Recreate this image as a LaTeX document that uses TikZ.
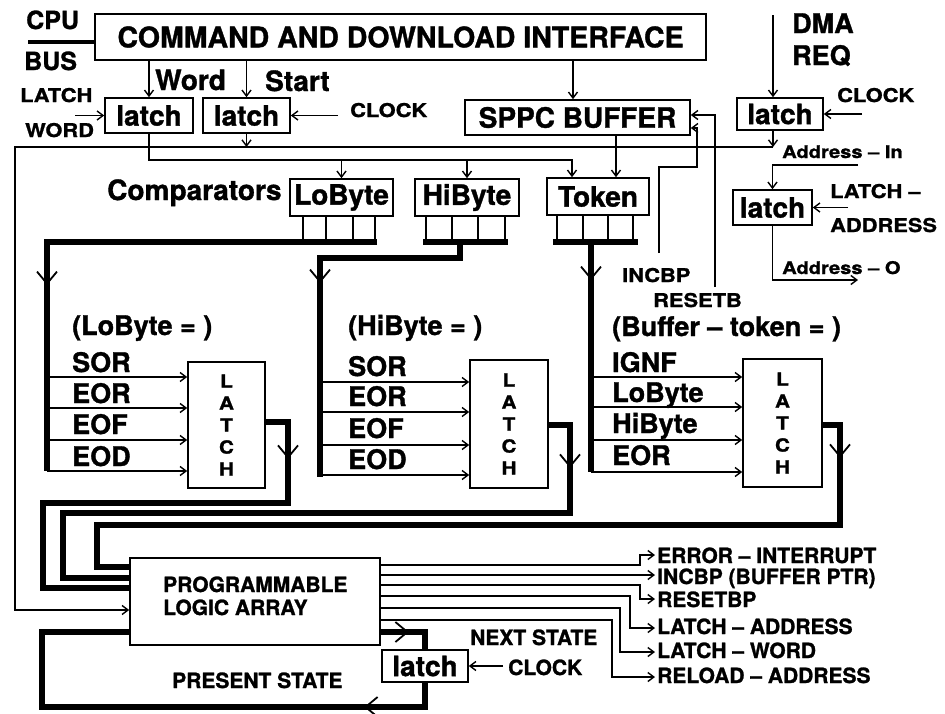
\documentclass[tikz,border=0pt]{standalone}
\usepackage{fontspec}
\setmainfont{TeX Gyre Heros}[BoldFeatures={FakeBold=1.2}]
\newfontfamily\wf{TeX Gyre Heros}[FakeStretch=1.15,BoldFeatures={FakeBold=1.2}]
\usetikzlibrary{arrows.meta,decorations.markings}
\newcommand\fsz[2]{\fontsize{#1}{#2}\selectfont}
\tikzset{
  wire/.style={line width=1.3pt},
  arr/.style={line width=1.3pt,-{Straight Barb[length=6pt,width=9pt,line width=1.4pt]}},
  bus/.style={line width=6pt},
  blk/.style={draw,line width=1.6pt,inner sep=0pt},
  chev/.style={postaction={decorate},decoration={markings,mark=at position #1 with {\arrow{Straight Barb[length=12pt,width=20pt,line width=1.8pt]}}}},
  lblbig/.style={font=\bfseries\fsz{28}{30}},
  lblmid/.style={font=\bfseries\fsz{27}{29}},
  lblsm/.style={font=\wf\bfseries\fsz{19}{21}},
  lbladdr/.style={font=\wf\bfseries\fsz{17.5}{19}},
  lbllo/.style={font=\bfseries\fsz{21}{23}},
  txt/.style={inner sep=0pt,anchor=base west},
  latchcol/.style={blk,align=center,font=\wf\bfseries\fsz{18}{22}},
}
\begin{document}
\begin{tikzpicture}[x=1pt,y=-1pt]
\fill[white] (0,0) rectangle (945,713);
\useasboundingbox (0,0) rectangle (945,713);

% ---------- boxes ----------
\node[blk,minimum width=611pt,minimum height=46pt,font=\bfseries\fsz{28.5}{30}] (cmd) at (400.5,37) {COMMAND AND DOWNLOAD INTERFACE};
\node[blk,minimum width=88pt,minimum height=35pt,lblbig] (l1) at (149,115.5) {latch};
\node[blk,minimum width=87pt,minimum height=35pt,lblbig] (l2) at (246.5,115.5) {latch};
\node[blk,minimum width=225pt,minimum height=35pt,lblbig] (sppc) at (577.5,117.5) {SPPC BUFFER};
\node[blk,minimum width=86pt,minimum height=32pt,lblbig] (dl) at (780,114) {latch};
\node[blk,minimum width=79pt,minimum height=35pt,lblbig] (al) at (772.5,207.5) {latch};
\node[blk,minimum width=103pt,minimum height=37pt,lblbig] (lob) at (341.5,197.5) {LoByte};
\node[blk,minimum width=104pt,minimum height=37pt,lblbig] (hib) at (467,197.5) {HiByte};
\node[blk,minimum width=102pt,minimum height=37pt,lblbig] (tok) at (598,196.5) {Token};
\node[latchcol,minimum width=77pt,minimum height=126pt] (LL) at (226.5,425) {L\\A\\T\\C\\H};
\node[latchcol,minimum width=78pt,minimum height=128pt] (ML) at (509,424) {L\\A\\T\\C\\H};
\node[latchcol,minimum width=79pt,minimum height=128pt] (RL) at (782.5,423) {L\\A\\T\\C\\H};
\node[blk,minimum width=250pt,minimum height=87pt] (pla) at (255,601.5) {};
\node[blk,minimum width=86pt,minimum height=32pt,lblbig] (bl) at (425,666) {latch};

% ---------- texts ----------
\node[txt,font=\bfseries\fsz{25}{27}] (tcpu) at (26,29) {CPU};
\node[txt,font=\bfseries\fsz{25}{27}] (tbus) at (24,70) {BUS};
\node[txt,lblbig] (tword) at (155,90) {Word};
\node[txt,lblbig] (tstart) at (265,91) {Start};
\node[txt,lblsm] (tlatch) at (20,102) {LATCH};
\node[txt,lblsm] (twordl) at (25,137) {WORD};
\node[txt,lblsm] (tclk1) at (350,117) {CLOCK};
\node[txt,font=\bfseries\fsz{27}{29}] (tdma) at (792,33) {DMA};
\node[txt,font=\bfseries\fsz{27}{29}] (treq) at (792,65) {REQ};
\node[txt,lblsm] (tclk2) at (837,102) {CLOCK};
\node[txt,lbladdr] (tain) at (782,158) {Address – In};
\node[txt,lblsm] (tla1) at (830,198) {LATCH –};
\node[txt,lblsm] (tla2) at (830,232) {ADDRESS};
\node[txt,lbladdr] (taout) at (782,274) {Address – O};
\node[txt,lblsm] (tincbp) at (622,282) {INCBP};
\node[txt,lblsm] (tresetb) at (653,307) {RESETB};
\node[txt,lblbig] (tcomp) at (107,200) {Comparators};

\node[txt,lblmid] (ta0) at (72,335) {(LoByte = )};
\node[txt,lblmid] (ta1) at (72,372) {SOR};
\node[txt,lblmid] (ta2) at (72,403) {EOR};
\node[txt,lblmid] (ta3) at (72,434) {EOF};
\node[txt,lblmid] (ta4) at (72,466) {EOD};

\node[txt,lblmid] (tb0) at (348,335) {(HiByte = )};
\node[txt,lblmid] (tb1) at (348,376) {SOR};
\node[txt,lblmid] (tb2) at (348,406) {EOR};
\node[txt,lblmid] (tb3) at (348,438) {EOF};
\node[txt,lblmid] (tb4) at (348,469) {EOD};

\node[txt,lblmid] (tc0) at (612,336) {(Buffer – token = )};
\node[txt,lblmid] (tc1) at (612,372) {IGNF};
\node[txt,lblmid] (tc2) at (612,402) {LoByte};
\node[txt,lblmid] (tc3) at (612,433) {HiByte};
\node[txt,lblmid] (tc4) at (612,465) {EOR};

\node[txt,lbllo] (tpla1) at (163,592) {PROGRAMMABLE};
\node[txt,lbllo] (tpla2) at (163,615) {LOGIC ARRAY};
\node[txt,lbllo] (tpres) at (172,688) {PRESENT STATE};
\node[txt,lbllo] (tnext) at (470,645) {NEXT STATE};
\node[txt,lbllo] (tclk3) at (508,675) {CLOCK};

\node[txt,lbllo] (to1) at (657,563) {ERROR – INTERRUPT};
\node[txt,lbllo] (to2) at (657,584) {INCBP (BUFFER PTR)};
\node[txt,lbllo] (to3) at (657,607) {RESETBP};
\node[txt,lbllo] (to4) at (657,634) {LATCH – ADDRESS};
\node[txt,lbllo] (to5) at (657,658) {LATCH – WORD};
\node[txt,lbllo] (to6) at (657,683) {RELOAD – ADDRESS};

% ---------- top connectors ----------
\coordinate (cpuend) at (28,42);
\draw[line width=4pt] (cpuend) -- (cmd.west |- cpuend);
\draw[arr] (cmd.south -| l1.north) -- (l1.north);
\draw[arr] (cmd.south -| l2.north) -- (l2.north);
\draw[arr] (cmd.south -| 573,0) -- (sppc.north -| 573,0);
\draw[arr] (75,115.5) -- (l1.west);
\draw[arr] (338,115.5) -- (l2.east);

% start line to PLA
\draw[arr] (l2.south) -- (l2.south |- 0,147);
\draw[arr] (dl.south -| 773,0) -- (773,147);
\draw[arr] (773,147) -- (15,147) |- (pla.west |- 0,610);

% latch1 output to comparators
\draw[arr] (l1.south) |- (572,160) -- (tok.north -| 572,0);
\draw[arr] (lob.north |- 0,160) -- (lob.north);
\draw[arr] (hib.north |- 0,160) -- (hib.north);
\draw[arr] (sppc.south -| 616,0) -- (tok.north -| 616,0);

% INCBP / RESETB feedback to buffer
\draw[arr] (659,253) |- (697,167) |- (sppc.east |- 0,128);
\draw[arr] (715,287) |- (sppc.east |- 0,115);

% DMA side
\draw[arr] (773,15) -- (dl.north -| 773,0);
\draw[arr] (862,114) -- (dl.east);
\draw[arr] (858,165) -| (al.north);
\draw[arr] (848,207.5) -- (al.east);
\draw[arr] (al.south) |- (858,280);

% ---------- comparator outputs ----------
\foreach \x in {303,326,353,375} \draw[wire] (lob.south -| \x,0) -- (\x,242);
\foreach \x in {426,452,478,505} \draw[wire] (hib.south -| \x,0) -- (\x,242);
\foreach \x in {557,583,608,633} \draw[wire] (tok.south -| \x,0) -- (\x,242);

\draw[bus,chev=373pt] (377,242) -- (47,242) -- (47,471);
\draw[bus] (423,242) -- (508,242);
\draw[bus,chev=181pt] (460,242) -- (460,258) -- (320,258) -- (320,477);
\draw[bus] (553,242) -- (638,242);
\draw[bus,chev=38pt] (591,242) -- (591,472);

\foreach \y in {377,408,440,471} \draw[arr] (47,\y) -- (LL.west |- 0,\y);
\foreach \y in {382,412,445,475} \draw[arr] (320,\y) -- (ML.west |- 0,\y);
\foreach \y in {377,407,440,472} \draw[arr] (591,\y) -- (RL.west |- 0,\y);

% ---------- latch outputs to PLA ----------
\draw[bus,chev=59pt] (LL.east |- 0,422) -- (288,422) -- (288,503) -- (43,503) -- (43,588) -- (pla.west |- 0,588);
\draw[bus,chev=64pt] (ML.east |- 0,425) -- (570,425) -- (570,513) -- (63,513) -- (63,578) -- (pla.west |- 0,578);
\draw[bus,chev=50pt] (RL.east |- 0,425) -- (840,425) -- (840,525) -- (97,525) -- (97,567) -- (pla.west |- 0,567);

% ---------- PLA outputs ----------
\draw[arr] (pla.east |- 0,565) -- (640,565) |- (655,555);
\draw[arr] (pla.east |- 0,575) -- (655,575);
\draw[arr] (pla.east |- 0,585) -- (640,585) |- (655,599);
\draw[arr] (pla.east |- 0,596) -- (630,596) |- (655,628);
\draw[arr] (pla.east |- 0,608) -- (620,608) |- (655,652);
\draw[arr] (pla.east |- 0,620) -- (612,620) |- (655,677);

% ---------- state loop ----------
\draw[bus,chev=28pt] (pla.east |- 0,632) -- (bl.north |- 0,632) -- (bl.north);
\draw[bus,chev=85pt] (bl.south) -- (bl.south |- 0,707) -- (42,707) -- (42,632) -- (pla.west |- 0,632);
\draw[arr] (503,666) -- (bl.east);
\end{tikzpicture}
\end{document}
